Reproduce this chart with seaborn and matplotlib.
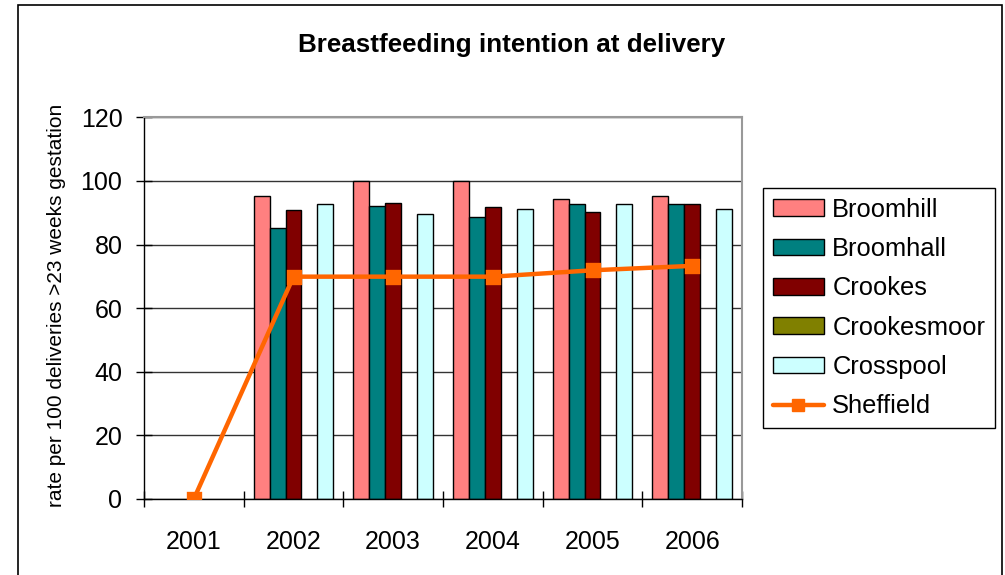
import numpy as np
import pandas as pd
import seaborn as sns
import matplotlib
matplotlib.use("Agg")
import matplotlib.pyplot as plt
from matplotlib.patches import Rectangle, Patch
from matplotlib.lines import Line2D

# ---- data ----
years = ["2001", "2002", "2003", "2004", "2005", "2006"]
wards = ["Broomhill", "Broomhall", "Crookes", "Crookesmoor", "Crosspool"]
broomhill = [np.nan, 95.2, 100.0, 100.0, 94.3, 95.2]
broomhall = [np.nan, 85.3, 92.1, 88.7, 92.7, 92.7]
crookes = [np.nan, 90.8, 93.1, 91.7, 90.2, 92.7]
crookesmoor = [np.nan, np.nan, np.nan, np.nan, np.nan, np.nan]
crosspool = [np.nan, 92.7, 89.7, 91.3, 92.7, 91.3]
sheffield = [0.0, 69.9, 69.9, 69.9, 71.9, 73.3]
yticks = [0, 20, 40, 60, 80, 100, 120]

title = "Breastfeeding intention at delivery"
ylabel = "rate per 100 deliveries >23 weeks gestation"

colors = {
    "Broomhill": "#FF8080",
    "Broomhall": "#008080",
    "Crookes": "#800000",
    "Crookesmoor": "#808000",
    "Crosspool": "#CCFFFF",
}
line_color = "#FF6600"

series = {"Broomhill": broomhill, "Broomhall": broomhall, "Crookes": crookes,
          "Crookesmoor": crookesmoor, "Crosspool": crosspool}
rows = []
for w in wards:
    for y, v in zip(years, series[w]):
        rows.append({"year": y, "ward": w, "rate": v})
df = pd.DataFrame(rows)

# ---- figure ----
sns.set_style("white")
plt.rcParams["font.family"] = ["Liberation Sans", "DejaVu Sans"]
plt.rcParams["text.color"] = "black"
plt.rcParams["xtick.color"] = "black"
plt.rcParams["ytick.color"] = "black"
plt.rcParams["axes.labelcolor"] = "black"

W, H = 1005, 575
fig = plt.figure(figsize=(W / 100, H / 100), dpi=100)
ax = fig.add_axes([144 / W, 1 - 499 / H, (742 - 144) / W, (499 - 117.3) / H])

sns.barplot(data=df, x="year", y="rate", hue="ward", order=years, hue_order=wards,
            palette=colors, saturation=1, edgecolor="black", linewidth=1,
            width=0.8, errorbar=None, legend=False, ax=ax)
sns.pointplot(x=years, y=sheffield, order=years, color=line_color, marker="s",
              markersize=8.5, linewidth=3.2, errorbar=None, ax=ax)
for ln in ax.lines:
    ln.set_zorder(5)

ax.set_xlim(-0.5, 5.5)
ax.set_ylim(0, 120)
ax.set_yticks(yticks)
ax.set_yticklabels([str(t) for t in yticks])
ax.set_xticks(range(len(years)))
ax.set_xticklabels(years)
ax.set_xticks(np.arange(-0.5, len(years), 1), minor=True)
ax.set_xlabel("")
ax.set_ylabel("")

ax.set_axisbelow(True)
ax.yaxis.grid(True, color="#333333", linewidth=1)
ax.xaxis.grid(False)

for s in ["left", "bottom"]:
    ax.spines[s].set_color("black")
    ax.spines[s].set_linewidth(1)
for s in ["top", "right"]:
    ax.spines[s].set_color("#999999")
    ax.spines[s].set_linewidth(1.5)

ax.tick_params(axis="y", which="major", direction="inout", length=11, width=1,
               color="black", labelcolor="black", labelsize=18, pad=10, left=True)
ax.tick_params(axis="x", which="major", length=0, labelsize=18, labelcolor="black", pad=22)
ax.tick_params(axis="x", which="minor", direction="inout", length=11, width=1,
               color="black", bottom=True)

# title and y label
fig.text(512 / W, 1 - 52 / H, title, ha="center", va="baseline",
         fontsize=18.7, fontweight="bold", color="black")
fig.text(56 / W, 1 - 305.5 / H, ylabel, rotation=90, ha="center", va="center",
         fontsize=15, color="black")

# legend
handles = [Patch(facecolor=colors[w], edgecolor="black", linewidth=1) for w in wards]
handles.append(Line2D([], [], color=line_color, linewidth=3.2, marker="s", markersize=8.5))
labels = wards + ["Sheffield"]
leg = fig.legend(handles, labels, loc="upper left",
                 bbox_to_anchor=(763 / W, 1 - 188 / H), bbox_transform=fig.transFigure,
                 frameon=True, fancybox=False, edgecolor="black", framealpha=1,
                 fontsize=18.4, handlelength=2.0, handleheight=0.62, handletextpad=0.33,
                 labelspacing=0.6, borderpad=0.38, borderaxespad=0)
leg.get_frame().set_linewidth(1)
for t in leg.get_texts():
    t.set_color("black")

# outer chart-area border
fig.patches.append(Rectangle((18 / W, -0.05), (1002 - 18) / W, 1.05 - 5 / H,
                             transform=fig.transFigure, fill=False,
                             edgecolor="black", linewidth=1.2))

fig.savefig("out.png", dpi=100)
